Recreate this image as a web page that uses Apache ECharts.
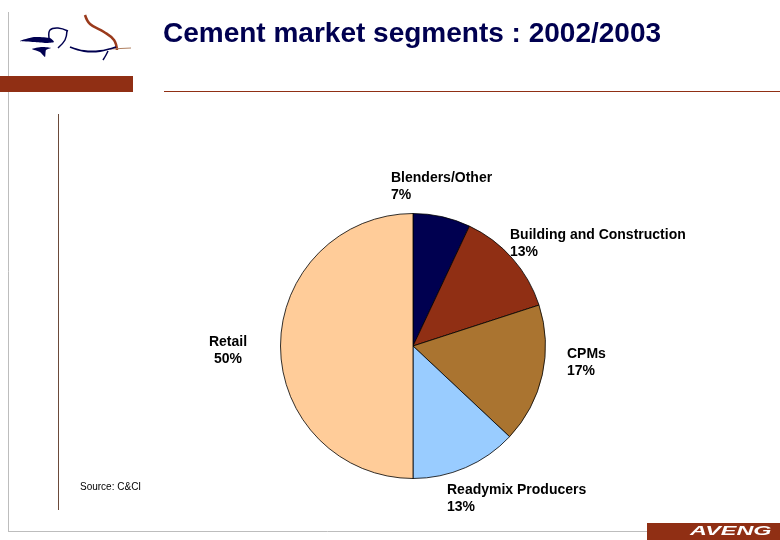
<!DOCTYPE html>
<html>
<head>
<meta charset="utf-8">
<style>html,body{margin:0;padding:0;background:#fff}#main{width:780px;height:540px}</style>
<script src="https://cdn.jsdelivr.net/npm/echarts@6/dist/echarts.min.js"></script>
</head>
<body>
<div id="main"></div>
<script>
// slices, clockwise from 12 o'clock
var segments = ['Blenders/Other', 'Building and Construction', 'CPMs', 'Readymix Producers', 'Retail'];
var shares = [7, 13, 17, 13, 50];
var colours = ['#000050', '#902f14', '#aa7430', '#99ccff', '#ffcc99'];

// where each label sits (left x / top y, Retail is centred on x)
var labelX = [391, 510, 567, 447, 228];
var labelY = [170, 227, 346, 482, 334];
var labelAlign = ['left', 'left', 'left', 'left', 'center'];

var brown = '#902f14';
var grey = '#bdbdbd';

function rule(x1, y1, x2, y2, color, w) {
  return {type: 'line', shape: {x1: x1, y1: y1, x2: x2, y2: y2}, style: {stroke: color, lineWidth: w}, silent: true};
}
function ink(points, color) {
  return {type: 'polygon', shape: {points: points, smooth: 0.2}, style: {fill: color}, silent: true};
}
function stroke(points, color, w) {
  return {type: 'polyline', shape: {points: points, smooth: 0.4}, style: {stroke: color, lineWidth: w, fill: null}, silent: true};
}

var chart = echarts.init(document.getElementById('main'), null, {renderer: 'canvas'});
chart.setOption({
  animation: false,
  backgroundColor: '#fff',
  title: {
    text: 'Cement market segments : 2002/2003',
    left: 158, top: 15,
    textStyle: {fontFamily: 'Liberation Sans', fontSize: 28, fontWeight: 'bold', color: '#000050'}
  },
  graphic: [
    rule(8.5, 12, 8.5, 531, grey, 1),
    rule(8, 531.5, 647, 531.5, grey, 1),
    {type: 'rect', shape: {x: 0, y: 76, width: 133, height: 16}, style: {fill: brown}, silent: true},
    rule(164, 91.5, 780, 91.5, brown, 1),
    rule(58.5, 114, 58.5, 510, '#6b4a3a', 1),
    {type: 'rect', shape: {x: 647, y: 523, width: 133, height: 17}, style: {fill: brown}, silent: true},
    {type: 'text', x: 690, y: 525, scaleX: 1.8, style: {text: 'AVENG', fill: '#fff', fontFamily: 'Liberation Sans', fontSize: 13, fontWeight: 'bold', fontStyle: 'italic'}, silent: true},
    {type: 'text', x: 80, y: 482, style: {text: 'Source: C&CI', fill: '#000', fontFamily: 'Liberation Sans', fontSize: 10}, silent: true},
    // logo: bow
    stroke([[85, 15], [90, 24], [104, 32], [114, 40], [117, 50]], '#9a3a1c', 2.5),
    rule(110, 49, 131, 48, '#b08060', 1),
    // logo: archer
    ink([[20, 41], [34, 37], [50, 38], [54, 42], [46, 43], [34, 42]], '#000050'),
    stroke([[49, 38], [50, 30], [58, 28], [68, 31]], '#000050', 1.5),
    stroke([[67, 31], [65, 40], [58, 48]], '#000050', 1.5),
    ink([[32, 49], [42, 47], [51, 48], [46, 50], [45, 57], [40, 52]], '#000050'),
    stroke([[70, 47], [84, 51], [100, 51], [116, 47]], '#000050', 1.8),
    stroke([[108, 51], [106, 55], [103, 60]], '#000050', 1.5)
  ],
  series: [{
    type: 'pie',
    center: [413, 346],
    radius: [0, 132.5],
    startAngle: 90,
    clockwise: true,
    avoidLabelOverlap: false,
    data: segments.map(function (name, i) {
      return {name: name, value: shares[i], itemStyle: {color: colours[i]}};
    }),
    itemStyle: {borderColor: '#000', borderWidth: 0.8},
    emphasis: {disabled: true},
    labelLine: {show: false},
    label: {
      show: true,
      position: 'outside',
      formatter: '{b}\n{c}%',
      fontFamily: 'Liberation Sans',
      fontSize: 14,
      fontWeight: 'bold',
      lineHeight: 17,
      color: '#000'
    },
    labelLayout: function (params) {
      var i = params.dataIndex;
      return {x: labelX[i], y: labelY[i], align: labelAlign[i], verticalAlign: 'top'};
    }
  }]
});
</script>
</body>
</html>
